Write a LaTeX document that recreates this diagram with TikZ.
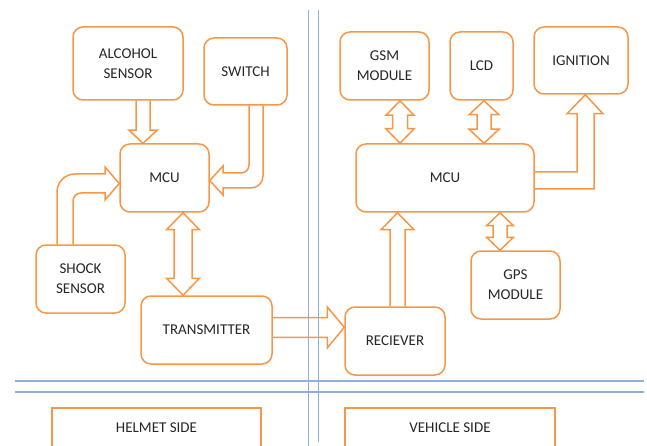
\documentclass[tikz,border=0pt]{standalone}
\usepackage{fontspec}
\setmainfont{Carlito}
\usetikzlibrary{calc}
\definecolor{boxorange}{RGB}{247,150,70}
\definecolor{lineblue}{RGB}{143,176,222}
\definecolor{textgray}{RGB}{38,38,38}

\begin{document}
\begin{tikzpicture}[x=1pt, y=-1pt,
    block/.style={draw=boxorange, line width=1.5pt, rounded corners=10pt, inner sep=0pt,
      align=center, text=textgray, font=\fontsize{15}{20}\selectfont},
    sidebox/.style={block, rounded corners=0pt},
    bigarrow/.style={draw=boxorange, line width=1.5pt, line join=miter}]
    \useasboundingbox (0,0) rectangle (647,446);
    \clip (0,0) rectangle (647,446);

    % dividing lines
    \foreach \i/\j in {308.5/446, 318.7/442}
      \draw [lineblue, line width=1.1pt] (\i,10) -- (\i,\j);
    \foreach \i in {381,392}
      \draw [lineblue, line width=1.1pt] (15,\i) -- (644,\i);

    % helmet side
    \node [block, minimum width=110pt, minimum height=73pt] (alcohol) at (128,63.5) {ALCOHOL\\SENSOR};
    \node [block, minimum width=83pt, minimum height=67pt] (switch) at (245.5,71.5) {SWITCH};
    \node [block, minimum width=89pt, minimum height=68pt] (mcuh) at (164.5,178) {MCU};
    \node [block, minimum width=89pt, minimum height=68pt] (shock) at (80.5,279) {SHOCK\\SENSOR};
    \node [block, minimum width=131pt, minimum height=68pt] (tx) at (206.5,330) {TRANSMITTER};
    \node [sidebox, minimum width=209pt, minimum height=40pt] (helmet) at (156.5,428) {HELMET SIDE};

    % vehicle side
    \node [block, minimum width=89pt, minimum height=68pt] (gsm) at (384.5,66) {GSM\\MODULE};
    \node [block, minimum width=63pt, minimum height=68pt] (lcd) at (481.5,66) {LCD};
    \node [block, minimum width=94pt, minimum height=67pt] (ignition) at (581,60.5) {IGNITION};
    \node [block, minimum width=178pt, minimum height=68pt] (mcuv) at (445,178) {MCU};
    \node [block, minimum width=89pt, minimum height=68pt] (gps) at (515.5,285) {GPS\\MODULE};
    \node [block, minimum width=100pt, minimum height=68pt] (rx) at (395,341) {RECIEVER};
    \node [sidebox, minimum width=210pt, minimum height=40pt] (vehicle) at (450,428) {VEHICLE SIDE};

    % one-way arrows
    \draw [bigarrow] let \p1=(alcohol.south), \p2=(mcuh.north) in
      (136pt,\y1) -- (136pt,\y2+13pt) -- (129pt,\y2+13pt) -- (143pt,\y2)
      -- (157pt,\y2+13pt) -- (150pt,\y2+13pt) -- (150pt,\y1);
    \draw [bigarrow] let \p1=(switch.south), \p2=(mcuh.east) in
      (249pt,\y1) [rounded corners=8pt] -- (249pt,-173pt) [sharp corners] -- (223pt,-173pt)
      -- (223pt,-166pt) -- (\x2,-180.5pt) -- (223pt,-195pt) -- (223pt,-188pt)
      [rounded corners=12pt] -- (263pt,-188pt) [sharp corners] -- (263pt,\y1);
    \draw [bigarrow] let \p1=(shock.north), \p2=(mcuh.west) in
      (57pt,\y1) [rounded corners=18pt] -- (57pt,-174pt) [sharp corners] -- (105pt,-174pt)
      -- (105pt,-167pt) -- (\x2,-183.5pt) -- (105pt,-200pt) -- (105pt,-193pt)
      [rounded corners=8pt] -- (73pt,-193pt) [sharp corners] -- (73pt,\y1);
    \draw [bigarrow] let \p1=(tx.east), \p2=(rx.west) in
      (\x1,-317.5pt) -- (327.3pt,-317.5pt) -- (327.3pt,-307pt) -- (\x2,-327.3pt)
      -- (327.3pt,-348pt) -- (327.3pt,-337.3pt) -- (\x1,-337.3pt);
    \draw [bigarrow] let \p1=(rx.north), \p2=(mcuv.south) in
      (390pt,\y1) -- (390pt,\y2-17pt) -- (381pt,\y2-17pt) -- (397.5pt,\y2)
      -- (414pt,\y2-17pt) -- (405pt,\y2-17pt) -- (405pt,\y1);
    \draw [bigarrow] let \p1=(mcuv.east), \p2=(ignition.south) in
      (\x1,-172pt) -- (577pt,-172pt) -- (577pt,\y2-19pt) -- (567pt,\y2-19pt) -- (585.3pt,\y2)
      -- (603pt,\y2-19pt) -- (594pt,\y2-19pt) -- (594pt,-189pt) -- (\x1,-189pt);

    % two-way arrows
    \foreach \a/\b/\c/\s/\h/\l in {mcuh.south/tx.north/183/9/16.5/17,
        gsm.south/mcuv.north/400/7.5/14/14.5, lcd.south/mcuv.north/484/7/15/14,
        mcuv.south/gps.north/500/7/13.5/13}
      \draw [bigarrow] let \p1=(\a), \p2=(\b) in
        (\c pt,\y1) -- (\c pt+\h pt,\y1-\l pt) -- (\c pt+\s pt,\y1-\l pt)
        -- (\c pt+\s pt,\y2+\l pt) -- (\c pt+\h pt,\y2+\l pt) -- (\c pt,\y2)
        -- (\c pt-\h pt,\y2+\l pt) -- (\c pt-\s pt,\y2+\l pt)
        -- (\c pt-\s pt,\y1-\l pt) -- (\c pt-\h pt,\y1-\l pt) -- cycle;
\end{tikzpicture}
\end{document}
